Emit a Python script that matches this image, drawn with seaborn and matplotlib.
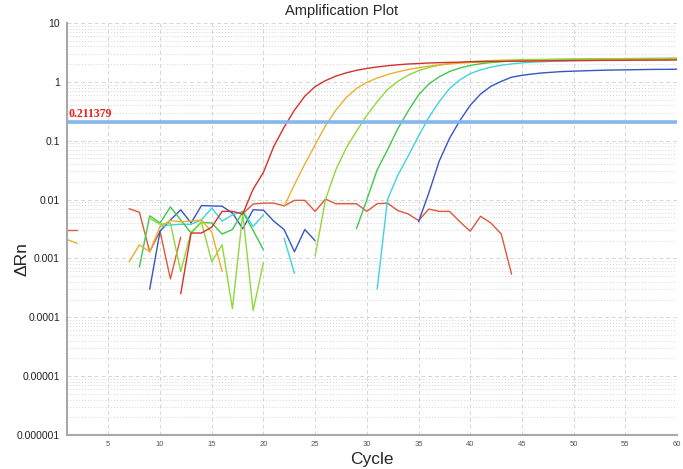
import numpy as np
import pandas as pd
import seaborn as sns
import matplotlib
matplotlib.use('Agg')
import matplotlib.pyplot as plt
from matplotlib.ticker import LogLocator, NullFormatter

# threshold value shown on the plot
threshold = 0.211379

# ---- cycle numbers and delta Rn per well ----
ntc_cycles = [1, 2] + list(range(7, 13)) + list(range(18, 45))
ntc_vals = [0.0031, 0.0031,
            0.0070, 0.0061, 0.0013, 0.0029, 0.00045, 0.0023,
            0.0057, 0.0084, 0.0087, 0.0087, 0.0078, 0.0097, 0.0097, 0.0063, 0.0102,
            0.0085, 0.0085, 0.0085, 0.0063, 0.0085, 0.0087, 0.0065, 0.0057, 0.0044,
            0.0069, 0.0063, 0.0063, 0.0042, 0.0029, 0.0052, 0.0040, 0.0026, 0.00054]

red_cycles = list(range(12, 61))
red_vals = [0.00025, 0.0027, 0.0027, 0.0034, 0.0063, 0.0063, 0.0057,
            0.015, 0.029, 0.08, 0.17, 0.33, 0.57, 0.83, 1.05, 1.25, 1.42, 1.57,
            1.69, 1.79, 1.88, 1.95, 2.01, 2.05, 2.09, 2.12, 2.14, 2.16, 2.2, 2.21,
            2.22, 2.23, 2.24, 2.25, 2.26, 2.27, 2.28, 2.29, 2.3, 2.3, 2.31, 2.32,
            2.32, 2.33, 2.34, 2.34, 2.35, 2.35, 2.36]

orange_cycles = [1, 2] + list(range(7, 17)) + list(range(22, 61))
orange_vals = [0.0021, 0.0018,
               0.00087, 0.0017, 0.0013, 0.0035, 0.0044, 0.0042, 0.0043, 0.0045, 0.0028, 0.0006,
               0.0076, 0.018, 0.04, 0.085, 0.18, 0.33, 0.54, 0.77, 0.98, 1.16, 1.33,
               1.48, 1.62, 1.74, 1.85, 1.95, 2.02, 2.08, 2.13, 2.17, 2.2, 2.23, 2.25,
               2.27, 2.29, 2.3, 2.31, 2.32, 2.33, 2.34, 2.35, 2.36, 2.36, 2.37, 2.38,
               2.38, 2.39, 2.39, 2.4]

ygreen_cycles = list(range(9, 21)) + list(range(25, 61))
ygreen_vals = [0.0048, 0.0038, 0.0040, 0.0006, 0.0028, 0.0042, 0.00088, 0.0017,
               0.00014, 0.0058, 0.00013, 0.00085,
               0.0011, 0.01, 0.032, 0.075, 0.145, 0.27, 0.46, 0.74, 1.02, 1.3, 1.55,
               1.75, 1.92, 2.04, 2.13, 2.2, 2.26, 2.3, 2.33, 2.36, 2.38, 2.4, 2.41,
               2.42, 2.43, 2.44, 2.45, 2.46, 2.46, 2.47, 2.47, 2.48, 2.48, 2.49, 2.49, 2.5]

green_cycles = list(range(8, 21)) + list(range(29, 61))
green_vals = [0.00071, 0.0053, 0.0040, 0.0075, 0.0045, 0.0027, 0.0041, 0.0040,
              0.0026, 0.0031, 0.0062, 0.0030, 0.0014,
              0.0032, 0.01, 0.032, 0.07, 0.16, 0.32, 0.6, 0.92, 1.22, 1.5, 1.72,
              1.9, 2.03, 2.13, 2.2, 2.26, 2.3, 2.34, 2.37, 2.39, 2.41, 2.43, 2.44,
              2.45, 2.46, 2.47, 2.48, 2.49, 2.5, 2.5, 2.51, 2.52]

cyan_cycles = list(range(10, 21)) + [22, 23] + list(range(31, 61))
cyan_vals = [0.0035, 0.0037, 0.0038, 0.0038, 0.0045, 0.0072, 0.0043, 0.0055,
             0.0063, 0.0035, 0.0055,
             0.0022, 0.00056,
             0.0003, 0.01, 0.026, 0.055, 0.12, 0.25, 0.46, 0.77, 1.08, 1.38, 1.6,
             1.78, 1.92, 2.02, 2.1, 2.16, 2.2, 2.24, 2.27, 2.29, 2.31, 2.32, 2.34,
             2.35, 2.36, 2.37, 2.38, 2.39, 2.39, 2.4]

blue_cycles = list(range(9, 26)) + list(range(35, 61))
blue_vals = [0.0003, 0.0029, 0.0045, 0.0067, 0.0040, 0.0079, 0.0078, 0.0077,
             0.0059, 0.0032, 0.0067, 0.0066, 0.0043, 0.0031, 0.0013, 0.0031, 0.0020,
             0.0042, 0.013, 0.045, 0.11, 0.22, 0.4, 0.62, 0.84, 1.02, 1.2, 1.29,
             1.36, 1.42, 1.46, 1.5, 1.52, 1.54, 1.56, 1.58, 1.59, 1.6, 1.61, 1.62,
             1.63, 1.63, 1.64]

wells = {
    'NTC': (ntc_cycles, ntc_vals),
    'A': (blue_cycles, blue_vals),
    'B': (cyan_cycles, cyan_vals),
    'C': (green_cycles, green_vals),
    'D': (ygreen_cycles, ygreen_vals),
    'E': (orange_cycles, orange_vals),
    'F': (red_cycles, red_vals),
}
palette = {'NTC': '#dc5a3c', 'A': '#3456c6', 'B': '#3fd3e0', 'C': '#3fc84c',
           'D': '#8fd83a', 'E': '#e8b030', 'F': '#d6302a'}

# long form table, a new segment wherever cycles are missing (negative values)
frames = []
for name, (cyc, vals) in wells.items():
    cyc = np.array(cyc)
    seg = np.cumsum(np.r_[0, np.diff(cyc) > 1])
    frames.append(pd.DataFrame({'Cycle': cyc, 'dRn': vals, 'Well': name, 'Seg': seg}))
df = pd.concat(frames, ignore_index=True)

sns.set_style('white')
plt.rcParams['font.family'] = ['Liberation Sans', 'DejaVu Sans']

fig = plt.figure(figsize=(6.83, 4.69), dpi=100)
ax = fig.add_axes([67/683, 1-435/469, 610/683, 412/469])

sns.lineplot(data=df, x='Cycle', y='dRn', hue='Well', units='Seg', estimator=None,
             palette=palette, hue_order=list(wells.keys()), legend=False,
             linewidth=1.0, ax=ax)

ax.set_yscale('log')
ax.set_xlim(1, 60)
ax.set_ylim(1e-6, 10)

ax.set_yticks([1e-6, 1e-5, 1e-4, 1e-3, 1e-2, 1e-1, 1, 10])
ax.set_yticklabels(['0.000001', '0.00001', '0.0001', '0.001', '0.01', '0.1', '1', '10'])
ax.yaxis.set_minor_locator(LogLocator(base=10, subs=np.arange(2, 10), numticks=20))
ax.yaxis.set_minor_formatter(NullFormatter())
ax.set_xticks(range(5, 61, 5))

ax.grid(True, which='major', axis='both', color='#d6d6d6', linestyle=(0, (4, 3)), linewidth=0.7)
ax.grid(True, which='minor', axis='y', color='#d6d6d6', linestyle=(0, (1, 2)), linewidth=0.7)
ax.set_axisbelow(True)

ax.tick_params(axis='y', which='both', length=0, labelsize=7.5, pad=5, labelcolor='#222222')
ax.tick_params(axis='x', which='both', length=0, labelsize=5.5, pad=4, labelcolor='#555555')

for s in ['top', 'right']:
    ax.spines[s].set_visible(False)
for s in ['left', 'bottom']:
    ax.spines[s].set_color('#a8a8a8')
    ax.spines[s].set_linewidth(1.5)

# threshold line and its label
ax.axhline(threshold, color='#86b7ec', linewidth=2.6, zorder=5)
ax.text(1.1, threshold * 1.06, '0.211379', color='#ee1c1c', fontweight='bold',
        family=['Liberation Serif', 'DejaVu Serif'], fontsize=8.5, va='bottom', zorder=6)

ax.set_xlabel('')
ax.set_ylabel('')
fig.text(372/683, 1-459/469, 'Cycle', fontsize=12.5, ha='center', va='center')
fig.text(22/683, 1-259/469, 'ΔRn', rotation=90, fontsize=12.5, ha='center', va='center')
fig.text(0.5, 1-11/469, 'Amplification Plot', fontsize=10.5, ha='center', va='center')

fig.savefig('out.png', dpi=100)
